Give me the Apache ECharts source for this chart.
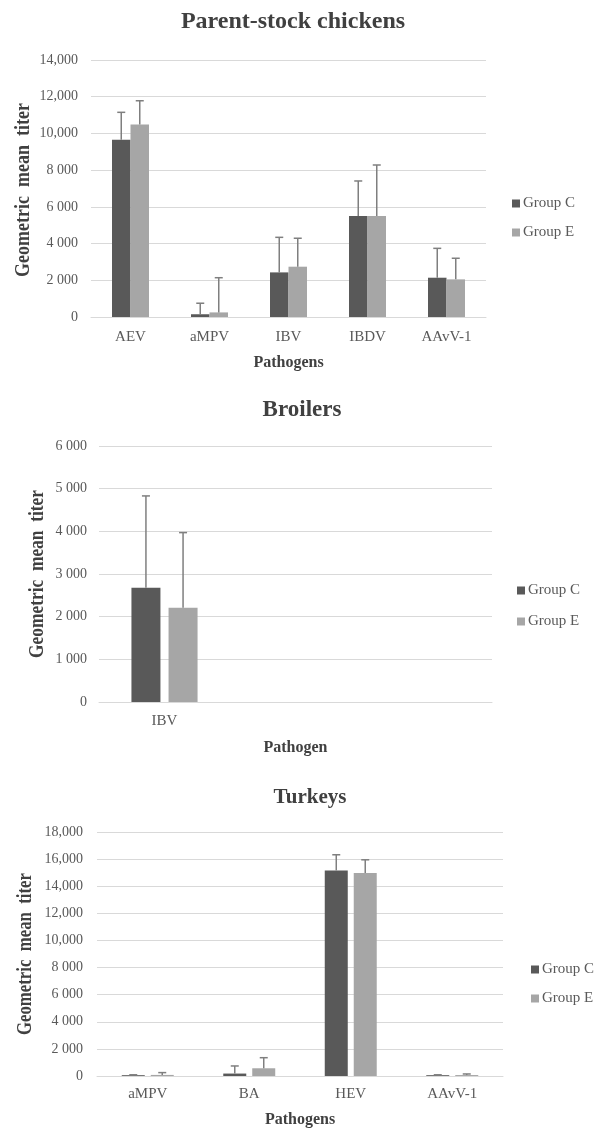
<!DOCTYPE html>
<html>
<head>
<meta charset="utf-8">
<title>Geometric mean titers</title>
<script src="https://cdn.jsdelivr.net/npm/echarts@6/dist/echarts.min.js"></script>
<style>
  html, body { margin: 0; padding: 0; background: #fff; }
  #chart { width: 596px; height: 1129px; }
</style>
</head>
<body>
<div id="chart"></div>
<script>
const groups = ['Group C', 'Group E'];

// parent-stock chickens
const psCategories = ['AEV', 'aMPV', 'IBV', 'IBDV', 'AAvV-1'];
const psMeanC = [9650, 150, 2430, 5500, 2140];
const psSdC = [1500, 600, 1910, 1910, 1600];
const psMeanE = [10490, 250, 2740, 5500, 2050];
const psSdE = [1290, 1890, 1550, 2780, 1150];
const psTicks = ['0', '2 000', '4 000', '6 000', '8 000', '10,000', '12,000', '14,000'];

// broilers (two empty slots, as in the source sheet)
const brCategories = ['IBV', '', ''];
const brMeanC = [2680, null, null];
const brSdC = [2150, null, null];
const brMeanE = [2210, null, null];
const brSdE = [1760, null, null];
const brTicks = ['0', '1 000', '2 000', '3 000', '4 000', '5 000', '6 000'];

// turkeys
const tkCategories = ['aMPV', 'BA', 'HEV', 'AAvV-1'];
const tkMeanC = [60, 180, 15160, 60];
const tkSdC = [30, 560, 1160, 30];
const tkMeanE = [80, 570, 14970, 70];
const tkSdE = [170, 780, 980, 80];
const tkTicks = ['0', '2 000', '4 000', '6 000', '8 000', '10,000', '12,000', '14,000', '16,000', '18,000'];

const FONT = 'Liberation Serif';
const COLORS = ['#595959', '#a6a6a6'];
const ERR_COLOR = '#7f7f7f';
const Y_TITLE = 'Geometric  mean  titer';

const panels = [
  {
    title: 'Parent-stock chickens', titleX: 293, titleY: 22, titleSize: 24,
    cats: psCategories, means: [psMeanC, psMeanE], sds: [psSdC, psSdE], ticks: psTicks,
    interval: 2000, grid: { left: 91, top: 60, width: 395, height: 257 },
    barWidth: 18.5, barGap: '0%', labelMargin: 13, yMargin: 13,
    xName: 'Pathogens', xNameGap: 38,
    yTitle: { x: 24, y: 190, len: 174 },
    legend: { left: 507, top: 191, gap: 14 }
  },
  {
    title: 'Broilers', titleX: 302, titleY: 410, titleSize: 23,
    cats: brCategories, means: [brMeanC, brMeanE], sds: [brSdC, brSdE], ticks: brTicks,
    interval: 1000, grid: { left: 99, top: 446, width: 393, height: 256 },
    barWidth: 29, barGap: '28%', labelMargin: 12, yMargin: 12,
    xName: 'Pathogen', xNameGap: 38,
    yTitle: { x: 38, y: 574, len: 168 },
    legend: { left: 512, top: 578, gap: 16 }
  },
  {
    title: 'Turkeys', titleX: 310, titleY: 798, titleSize: 21,
    cats: tkCategories, means: [tkMeanC, tkMeanE], sds: [tkSdC, tkSdE], ticks: tkTicks,
    interval: 2000, grid: { left: 97, top: 832, width: 406, height: 244 },
    barWidth: 23, barGap: '26%', labelMargin: 11, yMargin: 14,
    xName: 'Pathogens', xNameGap: 36,
    yTitle: { x: 26, y: 954, len: 162 },
    legend: { left: 526, top: 957, gap: 14 }
  }
];

const measureCtx = document.createElement('canvas').getContext('2d');
function textWidth(text, font) {
  measureCtx.font = font;
  return measureCtx.measureText(text).width;
}

function errorSeries(gi, means, sds, offset, name) {
  const data = [];
  means.forEach((m, i) => {
    if (m == null) return;
    data.push([i, m, m + sds[i]]);
  });
  return {
    type: 'custom',
    name: name + ' SD',
    xAxisIndex: gi,
    yAxisIndex: gi,
    z: 5,
    silent: true,
    encode: { x: 0, y: [1, 2] },
    data: data,
    renderItem: function (params, api) {
      const base = api.coord([api.value(0), api.value(1)]);
      const top = api.coord([api.value(0), api.value(2)]);
      const cx = base[0] + offset;
      const style = { stroke: ERR_COLOR, lineWidth: 1.5 };
      return {
        type: 'group',
        children: [
          { type: 'line', shape: { x1: cx, y1: base[1], x2: cx, y2: top[1] }, style: style },
          { type: 'line', shape: { x1: cx - 4, y1: top[1], x2: cx + 4, y2: top[1] }, style: style }
        ]
      };
    }
  };
}

const grids = [], xAxes = [], yAxes = [], series = [], legends = [], graphics = [];

panels.forEach((p, gi) => {
  grids.push(Object.assign({ containLabel: false }, p.grid));

  xAxes.push({
    type: 'category', gridIndex: gi, data: p.cats,
    axisLine: { show: true, lineStyle: { color: '#d9d9d9', width: 1 } },
    axisTick: { show: false },
    axisLabel: { color: '#595959', fontFamily: FONT, fontSize: 15, margin: p.labelMargin },
    name: p.xName, nameLocation: 'middle', nameGap: p.xNameGap,
    nameTextStyle: { color: '#404040', fontFamily: FONT, fontSize: 16, fontWeight: 'bold' }
  });

  yAxes.push({
    type: 'value', gridIndex: gi, min: 0,
    max: (p.ticks.length - 1) * p.interval, interval: p.interval,
    axisLine: { show: false }, axisTick: { show: false },
    splitLine: { lineStyle: { color: '#d9d9d9', width: 1 } },
    axisLabel: {
      color: '#595959', fontFamily: FONT, fontSize: 14, margin: p.yMargin,
      formatter: (v) => p.ticks[Math.round(v / p.interval)]
    }
  });

  // pixel offset of each bar centre from the category centre
  const gapPx = p.barWidth * parseFloat(p.barGap) / 100;
  const offset = (p.barWidth + gapPx) / 2;

  groups.forEach((g, k) => {
    series.push({
      type: 'bar', name: g, xAxisIndex: gi, yAxisIndex: gi,
      data: p.means[k], barWidth: p.barWidth, barGap: p.barGap,
      itemStyle: { color: COLORS[k] }, z: 2
    });
  });
  groups.forEach((g, k) => {
    series.push(errorSeries(gi, p.means[k], p.sds[k], k === 0 ? -offset : offset, g));
  });

  legends.push({
    data: groups, orient: 'vertical', left: p.legend.left, top: p.legend.top,
    itemGap: p.legend.gap, itemWidth: 8, itemHeight: 8, icon: 'rect', itemStyle: { borderWidth: 0 },
    selectedMode: false,
    textStyle: { color: '#595959', fontFamily: FONT, fontSize: 15, padding: [0, 0, 0, -2] }
  });

  graphics.push({
    type: 'text', x: p.titleX, y: p.titleY,
    style: {
      text: p.title, fill: '#404040', align: 'center', verticalAlign: 'middle',
      font: 'bold ' + p.titleSize + 'px "' + FONT + '"'
    }
  });

  const yFont = 'bold 20px "' + FONT + '"';
  const natural = textWidth(Y_TITLE, yFont) || 200;
  graphics.push({
    type: 'text', x: p.yTitle.x, y: p.yTitle.y, rotation: Math.PI / 2,
    scaleX: p.yTitle.len / natural,
    style: {
      text: Y_TITLE, fill: '#404040', align: 'center', verticalAlign: 'middle', font: yFont
    }
  });
});

const chart = echarts.init(document.getElementById('chart'), null, { renderer: 'canvas' });
chart.setOption({
  backgroundColor: '#ffffff',
  animation: false,
  grid: grids,
  xAxis: xAxes,
  yAxis: yAxes,
  legend: legends,
  series: series,
  graphic: graphics
});
window.addEventListener('resize', () => chart.resize());
</script>
</body>
</html>
